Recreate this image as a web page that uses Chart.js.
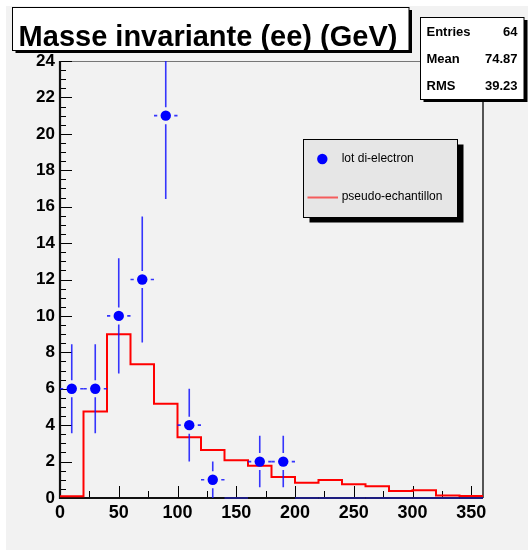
<!DOCTYPE html>
<html><head><meta charset="utf-8">
<script src="https://cdn.jsdelivr.net/npm/chart.js@4.4.0/dist/chart.umd.min.js"></script>
<style>html,body{margin:0;padding:0;background:#fff;}#wrap{width:528px;height:550px;position:relative;}</style>
</head><body><div id="wrap"><canvas id="c" width="528" height="550"></canvas></div>
<script>
// ---- data ----
const titleText = 'Masse invariante (ee) (GeV)';
const statsLabels = ['Entries', 'Mean', 'RMS'];
const statsValues = ['64', '74.87', '39.23'];
const legendLabels = ['lot di-electron', 'pseudo-echantillon'];
const binLowEdges = [0, 20, 40, 60, 80, 100, 120, 140, 160, 180, 200, 220, 240, 260, 280, 300, 320, 340];
const binUpperEnd = 360;
const pseudoCounts = [0.1, 4.75, 9.0, 7.35, 5.18, 3.34, 2.63, 2.08, 1.77, 1.15, 0.84, 0.99, 0.75, 0.64, 0.38, 0.42, 0.14, 0.11];
const binCenters = [10, 30, 50, 70, 90, 110, 130, 150, 170, 190, 210, 230, 250, 270, 290, 310, 330, 350];
const dataCounts = [6, 6, 10, 12, 21, 4, 1, 0, 2, 2, 0, 0, 0, 0, 0, 0, 0, 0];
const xTickLabels = [0, 50, 100, 150, 200, 250, 300, 350];
const yTickLabels = [0, 2, 4, 6, 8, 10, 12, 14, 16, 18, 20, 22, 24];

const FONT = "'Liberation Sans', Arial, Helvetica, sans-serif";
const BLUE = '#0000ff';
const ERR = 'rgba(20,20,255,0.85)';

const histPoints = binLowEdges.map((x, i) => ({x: x, y: pseudoCounts[i]}));
histPoints.push({x: binUpperEnd, y: pseudoCounts[pseudoCounts.length - 1]});
const dataPoints = binCenters.map((x, i) => ({x: x, y: dataCounts[i]}));

const decor = {
  id: 'decor',
  beforeDraw(chart) {
    const ctx = chart.ctx;
    ctx.save();
    ctx.fillStyle = '#ffffff';
    ctx.fillRect(0, 0, chart.width, chart.height);
    ctx.fillStyle = '#f2f2f2';
    ctx.fillRect(6, 6, chart.width - 6, chart.height - 6);
    ctx.restore();
  },
  beforeDatasetsDraw(chart) {
    const ctx = chart.ctx, a = chart.chartArea;
    const xs = chart.scales.x, ys = chart.scales.y;
    ctx.save();
    // frame top / right
    ctx.strokeStyle = '#777';
    ctx.lineWidth = 1;
    ctx.beginPath(); ctx.moveTo(a.left, a.top + 0.5); ctx.lineTo(a.right, a.top + 0.5); ctx.stroke();
    ctx.strokeStyle = '#555';
    ctx.lineWidth = 2;
    ctx.beginPath(); ctx.moveTo(a.right, a.top); ctx.lineTo(a.right, a.bottom); ctx.stroke();
    // ticks
    ctx.strokeStyle = '#000';
    ctx.lineWidth = 1;
    ctx.beginPath();
    for (let v = ys.min; v <= ys.max + 1e-9; v += 0.5) {
      const py = Math.round(ys.getPixelForValue(v)) + 0.5;
      const len = (Math.abs(v / 2 - Math.round(v / 2)) < 1e-9) ? 12 : 6;
      ctx.moveTo(a.left, py); ctx.lineTo(a.left + len, py);
    }
    for (let v = xs.min; v <= xs.max + 1e-9; v += 25) {
      const px = Math.round(xs.getPixelForValue(v)) + 0.5;
      const len = (v % 50 === 0) ? 12 : 7;
      ctx.moveTo(px, a.bottom); ctx.lineTo(px, a.bottom - len);
    }
    ctx.stroke();
    // axes
    ctx.lineWidth = 2.2;
    ctx.strokeStyle = '#111';
    ctx.beginPath();
    ctx.moveTo(a.left, a.top); ctx.lineTo(a.left, a.bottom + 1);
    ctx.moveTo(a.left - 1, a.bottom); ctx.lineTo(a.right, a.bottom);
    ctx.stroke();
    ctx.restore();
  },
  afterDatasetDraw(chart, args) {
    if (args.index !== 1) return;
    const ctx = chart.ctx, a = chart.chartArea;
    const xs = chart.scales.x, ys = chart.scales.y;
    ctx.save();
    ctx.beginPath(); ctx.rect(a.left, a.top, a.right - a.left, a.bottom - a.top + 2); ctx.clip();
    ctx.lineWidth = 1.6;
    const gap = 8.5;
    binCenters.forEach((c, i) => {
      const n = dataCounts[i];
      const px = xs.getPixelForValue(c);
      const x0 = xs.getPixelForValue(c - 10), x1 = xs.getPixelForValue(c + 10);
      if (n === 0) {
        ctx.strokeStyle = 'rgba(30,30,140,0.9)';
        ctx.lineWidth = 2;
        ctx.beginPath(); ctx.moveTo(x0, a.bottom); ctx.lineTo(x1, a.bottom); ctx.stroke();
        ctx.lineWidth = 1.6;
        return;
      }
      const py = ys.getPixelForValue(n);
      const e = Math.sqrt(n);
      const yTop = ys.getPixelForValue(n + e), yBot = ys.getPixelForValue(n - e);
      ctx.strokeStyle = ERR;
      ctx.beginPath();
      ctx.moveTo(px, yTop); ctx.lineTo(px, py - gap);
      ctx.moveTo(px, py + gap); ctx.lineTo(px, yBot);
      ctx.moveTo(x0, py); ctx.lineTo(px - gap, py);
      ctx.moveTo(px + gap, py); ctx.lineTo(x1, py);
      ctx.stroke();
    });
    ctx.restore();
  },
  afterDraw(chart) {
    const ctx = chart.ctx;
    ctx.save();
    // title box
    ctx.fillStyle = '#000';
    ctx.fillRect(15.5, 10, 396.5, 43);
    ctx.fillStyle = '#fff';
    ctx.fillRect(12.5, 7.5, 396.5, 43);
    ctx.strokeStyle = '#000'; ctx.lineWidth = 1;
    ctx.strokeRect(12.5, 7.5, 396.5, 43);
    ctx.fillStyle = '#000';
    ctx.font = 'bold 29px ' + FONT;
    ctx.textAlign = 'center'; ctx.textBaseline = 'alphabetic';
    ctx.fillText(titleText, 208, 46);
    // stats box
    ctx.fillStyle = '#000';
    ctx.fillRect(423.5, 20, 104, 82);
    ctx.fillStyle = '#fff';
    ctx.fillRect(420.5, 17.5, 103.5, 82);
    ctx.strokeRect(420.5, 17.5, 103.5, 82);
    ctx.fillStyle = '#000';
    ctx.font = 'bold 13px ' + FONT;
    statsLabels.forEach((l, i) => {
      const by = 36 + i * 27.2;
      ctx.textAlign = 'left'; ctx.fillText(l, 426.5, by);
      ctx.textAlign = 'right'; ctx.fillText(statsValues[i], 517.5, by);
    });
    // legend box
    ctx.fillStyle = '#000';
    ctx.fillRect(309.5, 144.5, 154, 78);
    ctx.fillStyle = '#e6e6e6';
    ctx.fillRect(303.5, 139.5, 154, 78);
    ctx.strokeRect(303.5, 139.5, 154, 78);
    ctx.fillStyle = BLUE;
    ctx.beginPath(); ctx.arc(322.3, 159, 5.2, 0, Math.PI * 2); ctx.fill();
    ctx.strokeStyle = 'rgba(255,0,0,0.6)'; ctx.lineWidth = 2;
    ctx.beginPath(); ctx.moveTo(307.5, 197.5); ctx.lineTo(338, 197.5); ctx.stroke();
    ctx.fillStyle = '#000';
    ctx.font = '12px ' + FONT;
    ctx.textAlign = 'left'; ctx.textBaseline = 'middle';
    ctx.fillText(legendLabels[0], 341.7, 158.5);
    ctx.fillText(legendLabels[1], 341.7, 197);
    ctx.restore();
  }
};

new Chart(document.getElementById('c'), {
  type: 'scatter',
  data: {
    datasets: [
      {
        label: legendLabels[0],
        data: dataPoints,
        showLine: false,
        backgroundColor: BLUE,
        borderColor: BLUE,
        borderWidth: 0,
        pointRadius: ctx => (ctx.raw && ctx.raw.y > 0) ? 5.2 : 0,
        pointHoverRadius: 0,
        clip: false
      },
      {
        label: legendLabels[1],
        data: histPoints,
        showLine: true,
        stepped: 'before',
        borderColor: '#ff0000',
        borderWidth: 2,
        pointRadius: 0,
        fill: false
      }
    ]
  },
  options: {
    responsive: false,
    animation: false,
    devicePixelRatio: 1,
    events: [],
    layout: {padding: {left: 0, top: 61, right: 45, bottom: 0}},
    plugins: {legend: {display: false}, tooltip: {enabled: false}, title: {display: false}},
    scales: {
      x: {
        type: 'linear', min: 0, max: binUpperEnd,
        afterBuildTicks: s => { s.ticks = xTickLabels.map(v => ({value: v})); },
        afterFit: s => { s.height = 52; },
        grid: {display: false, drawTicks: false},
        border: {display: false},
        ticks: {color: '#000', font: {family: FONT, size: 18, weight: 'bold'}, padding: 4, autoSkip: false, maxRotation: 0}
      },
      y: {
        type: 'linear', min: 0, max: 24,
        afterBuildTicks: s => { s.ticks = yTickLabels.map(v => ({value: v})); },
        afterFit: s => { s.width = 60; },
        grid: {display: false, drawTicks: false},
        border: {display: false},
        ticks: {color: '#000', font: {family: FONT, size: 17, weight: 'bold'}, padding: 5, autoSkip: false}
      }
    }
  },
  plugins: [decor]
});
</script></body></html>
